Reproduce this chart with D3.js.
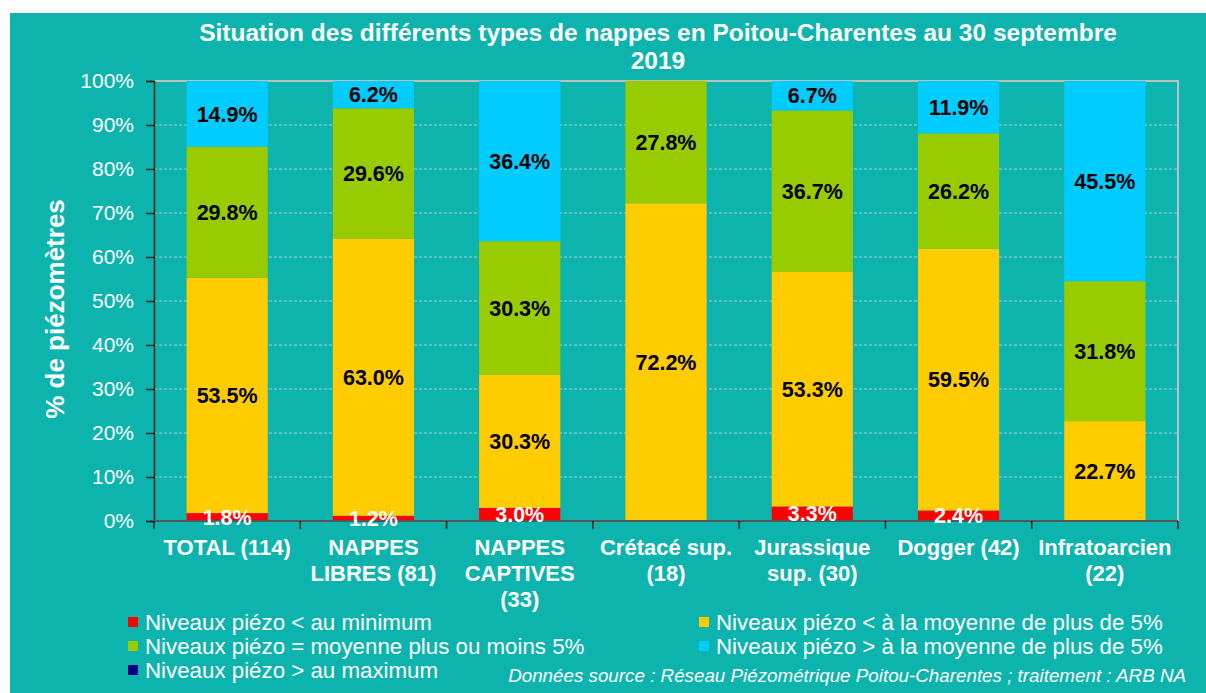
<!DOCTYPE html>
<html>
<head>
<meta charset="utf-8">
<style>
  body { margin: 0; background: #fff; }
  svg text { font-family: Arial, "Liberation Sans", sans-serif; }
</style>
</head>
<body>
<div id="chart"></div>
<script src="https://d3js.org/d3.v7.min.js"></script>
<script>
// data, bottom to top in each bar
var categories = ["TOTAL (114)", "NAPPES\nLIBRES (81)", "NAPPES\nCAPTIVES\n(33)", "Crétacé sup.\n(18)",
                  "Jurassique\nsup. (30)", "Dogger (42)", "Infratoarcien\n(22)"];
var belowMin   = [1.8, 1.2, 3.0, 0, 3.3, 2.4, 0];
var belowMean  = [53.5, 63.0, 30.3, 72.2, 53.3, 59.5, 22.7];
var aroundMean = [29.8, 29.6, 30.3, 27.8, 36.7, 26.2, 31.8];
var aboveMean  = [14.9, 6.2, 36.4, 0, 6.7, 11.9, 45.5];
var aboveMax   = [0, 0, 0, 0, 0, 0, 0];
var yTicks = [0, 10, 20, 30, 40, 50, 60, 70, 80, 90, 100];

var seriesNames = ["Niveaux piézo < au minimum", "Niveaux piézo < à la moyenne de plus de 5%",
                   "Niveaux piézo = moyenne plus ou moins 5%", "Niveaux piézo > à la moyenne de plus de 5%",
                   "Niveaux piézo > au maximum"];
var seriesValues = [belowMin, belowMean, aroundMean, aboveMean, aboveMax];
var colors = ["#ff0000", "#ffcc00", "#99cc00", "#00ccff", "#000080"];
var labelColors = ["#fff", "#000", "#000", "#000", "#fff"];

var W = 1206, H = 693;
var teal = "#0db4ad";
var margin = {left: 154, right: 28, top: 81, bottom: 172};

var svg = d3.select("#chart").append("svg").attr("width", W).attr("height", H);
svg.append("rect").attr("x", 10).attr("y", 13).attr("width", W - 10).attr("height", H - 13).attr("fill", teal);

var x = d3.scaleBand().domain(d3.range(categories.length))
    .range([margin.left, W - margin.right]).paddingInner(0.445).paddingOuter(0.2225);
var y = d3.scaleLinear().domain([0, 100]).range([H - margin.bottom, margin.top]);

// title
var title = svg.append("text").attr("x", 658).attr("y", 41).attr("text-anchor", "middle")
    .attr("fill", "#fff").style("font-weight", "bold").style("font-size", "24.5px");
title.append("tspan").attr("x", 658).text("Situation des différents types de nappes en Poitou-Charentes au 30 septembre");
title.append("tspan").attr("x", 658).attr("dy", 28).text("2019");

// gridlines
svg.append("g").selectAll("line").data(yTicks.filter(function(d) { return d > 0 && d < 100; }))
  .enter().append("line")
    .attr("x1", margin.left).attr("x2", W - margin.right)
    .attr("y1", function(d) { return y(d); }).attr("y2", function(d) { return y(d); })
    .attr("stroke", "#cfd8d8").attr("stroke-width", 0.8).attr("stroke-dasharray", "3,2");
// frame top + right
svg.append("path")
    .attr("d", "M" + margin.left + "," + y(100) + "H" + (W - margin.right) + "V" + y(0))
    .attr("fill", "none").attr("stroke", "#bfbfbf").attr("stroke-width", 2);

// stacked bars
var rows = categories.map(function(c, i) {
  var r = {i: i};
  seriesValues.forEach(function(s, k) { r["s" + k] = s[i]; });
  return r;
});
var stack = d3.stack().keys(seriesNames.map(function(d, k) { return "s" + k; }));
var layers = stack(rows);

var layer = svg.append("g").selectAll("g").data(layers).enter().append("g")
    .attr("fill", function(d, k) { return colors[k]; });
layer.selectAll("rect").data(function(d) { return d; }).enter().append("rect")
    .attr("x", function(d) { return x(d.data.i); })
    .attr("width", x.bandwidth())
    .attr("y", function(d) { return y(d[1]); })
    .attr("height", function(d) { return y(d[0]) - y(d[1]); });

// axes
var yAxis = svg.append("g").attr("transform", "translate(" + margin.left + ",0)")
    .call(d3.axisLeft(y).tickValues(yTicks).tickSize(8).tickPadding(12)
      .tickFormat(function(d) { return d + "%"; }));
yAxis.select(".domain").attr("stroke", "#222").attr("stroke-width", 1.5);
yAxis.selectAll(".tick line").attr("stroke", "#222").attr("stroke-width", 1.5);
yAxis.selectAll("text").attr("fill", "#fff").style("font-size", "21px");

var xAxisY = y(0);
var bounds = d3.range(categories.length + 1).map(function(i) {
  return margin.left + i * (W - margin.right - margin.left) / categories.length;
});
svg.append("line").attr("x1", margin.left).attr("x2", W - margin.right)
    .attr("y1", xAxisY).attr("y2", xAxisY).attr("stroke", "#555").attr("stroke-width", 2);
svg.append("g").selectAll("line").data(bounds).enter().append("line")
    .attr("x1", function(d) { return d; }).attr("x2", function(d) { return d; })
    .attr("y1", xAxisY).attr("y2", xAxisY + 8).attr("stroke", "#222").attr("stroke-width", 1.5);

// data labels (drawn above the axis)
var labels = svg.append("g").selectAll("g").data(layers).enter().append("g");
labels.each(function(ld, k) {
  d3.select(this).selectAll("text").data(ld.filter(function(d) { return d[1] - d[0] > 0; }))
    .enter().append("text")
      .attr("x", function(d) { return x(d.data.i) + x.bandwidth() / 2; })
      .attr("y", function(d) { return (y(d[0]) + y(d[1])) / 2; })
      .attr("dy", "0.36em")
      .attr("text-anchor", "middle")
      .attr("fill", labelColors[k])
      .style("font-weight", "bold").style("font-size", "21.5px")
      .text(function(d) { return (d[1] - d[0]).toFixed(1) + "%"; });
});

// category labels
var xl = svg.append("g").selectAll("text").data(categories).enter().append("text")
    .attr("text-anchor", "middle").attr("fill", "#fff")
    .style("font-weight", "bold").style("font-size", "22px")
    .attr("y", xAxisY + 34);
xl.each(function(c, i) {
  var t = d3.select(this);
  c.split("\n").forEach(function(line, j) {
    t.append("tspan").attr("x", x(i) + x.bandwidth() / 2).attr("dy", j ? 26 : 0).text(line);
  });
});

// y title
svg.append("text")
    .attr("transform", "translate(64," + (y(50) + 8) + ") rotate(-90)")
    .attr("text-anchor", "middle").attr("fill", "#fff")
    .style("font-weight", "bold").style("font-size", "26px")
    .text("% de piézomètres");

// legend
var legendPos = [[128, 622], [699, 622], [128, 646], [699, 646], [128, 670]];
var lg = svg.append("g").selectAll("g").data(seriesNames).enter().append("g")
    .attr("transform", function(d, k) { return "translate(" + legendPos[k][0] + "," + legendPos[k][1] + ")"; });
lg.append("rect").attr("x", 0).attr("y", -5).attr("width", 10).attr("height", 10)
    .attr("fill", function(d, k) { return colors[k]; });
lg.append("text").attr("x", 17).attr("y", 0).attr("dy", "0.36em")
    .attr("fill", "#fff").style("font-size", "22.3px")
    .text(function(d) { return d; });

// source
svg.append("text").attr("x", 1186).attr("y", 682).attr("text-anchor", "end")
    .attr("fill", "#fff").style("font-style", "italic").style("font-size", "18.8px")
    .text("Données source : Réseau Piézométrique Poitou-Charentes ; traitement : ARB NA");
</script>
</body>
</html>
